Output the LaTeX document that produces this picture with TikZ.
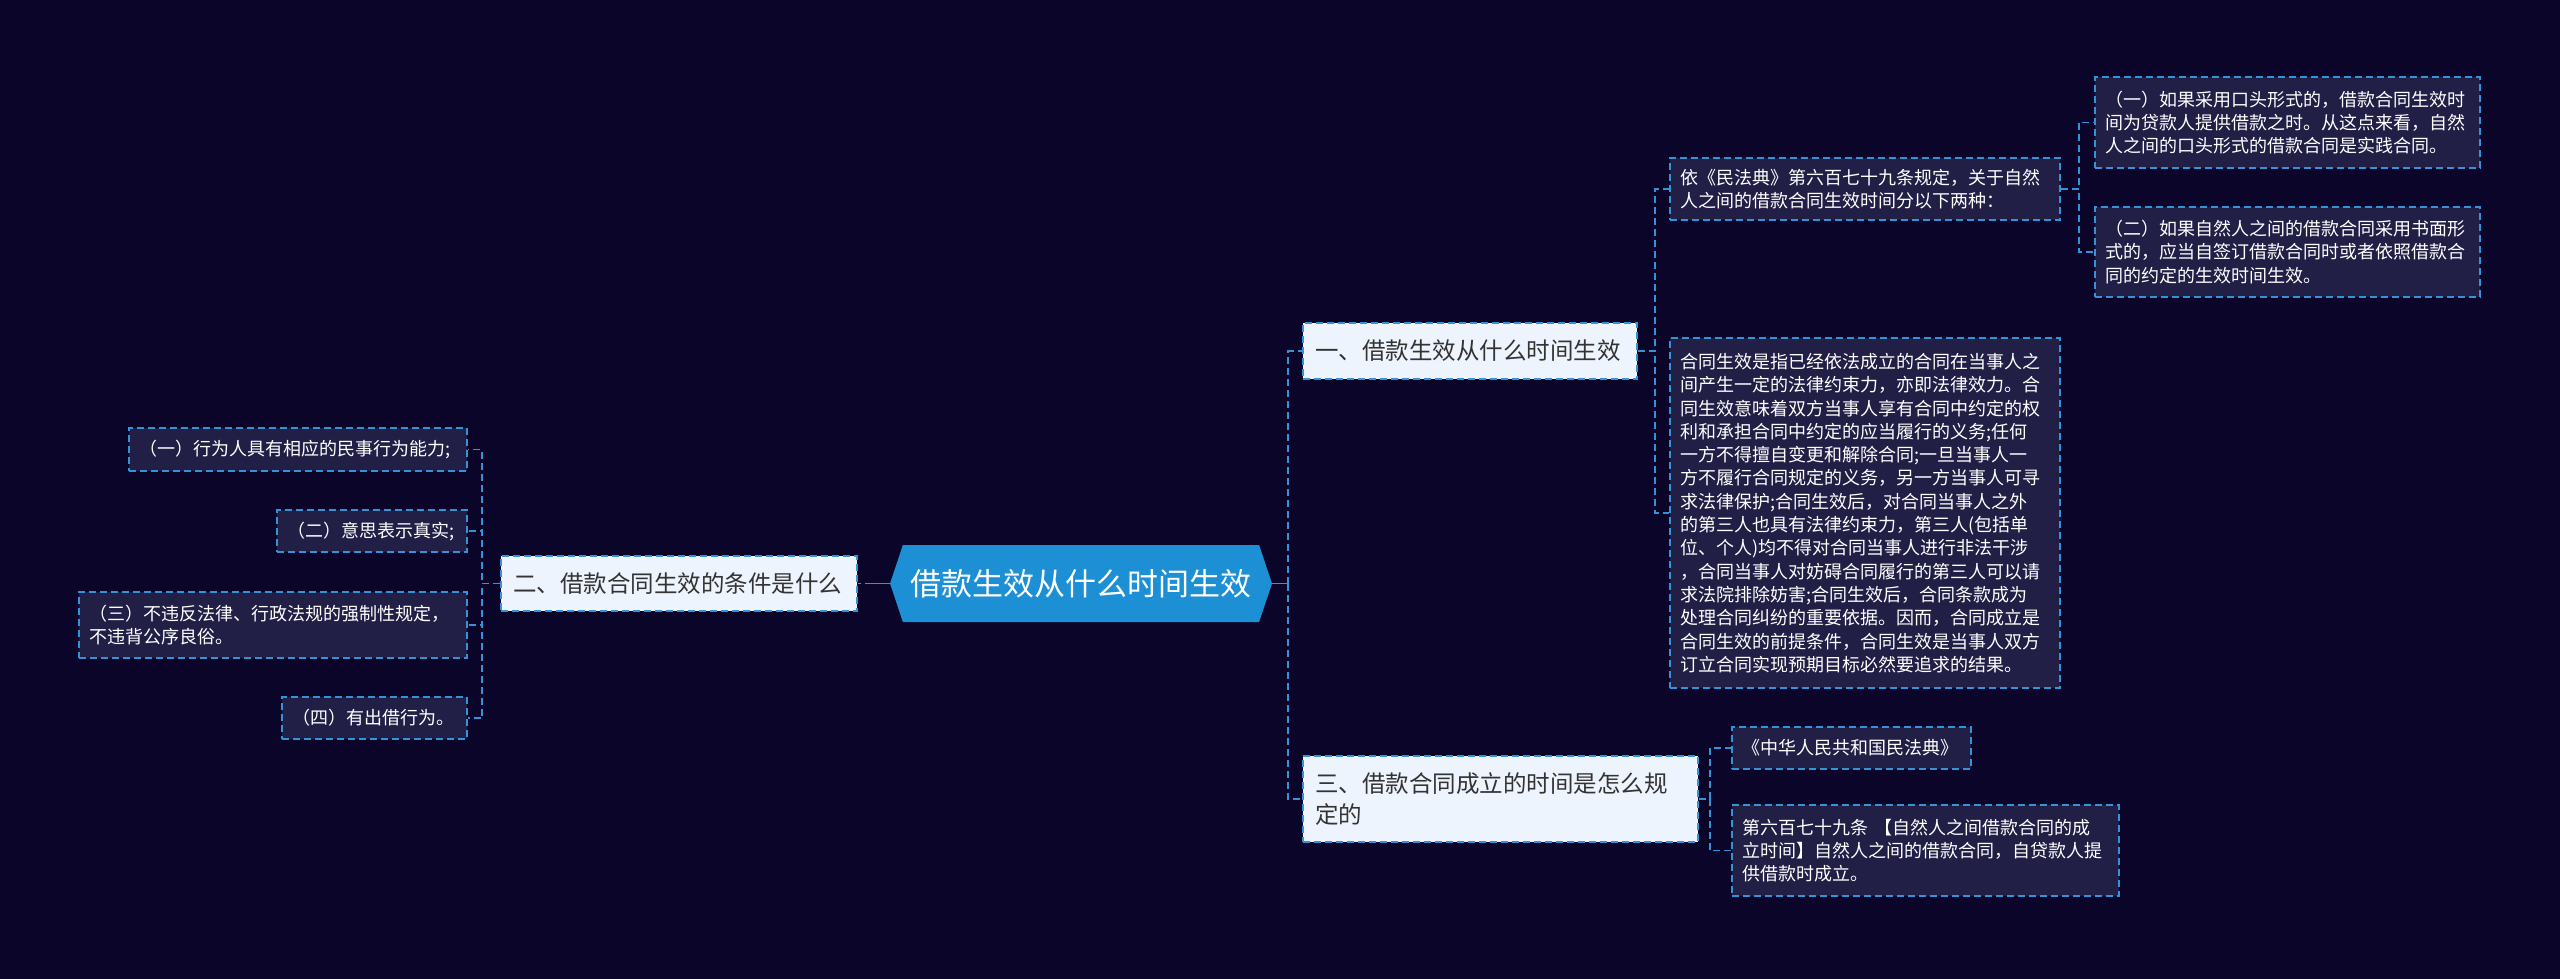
\documentclass[tikz,border=0pt]{standalone}
\usepackage{fontspec}
\newfontfamily\cjk{Noto Sans CJK SC}
\usetikzlibrary{shapes.symbols}
\definecolor{bgnavy}{HTML}{0A0529}
\definecolor{leafbg}{HTML}{221F47}
\definecolor{linkblue}{HTML}{3393D6}
\definecolor{rootblue}{HTML}{1D8FD5}
\definecolor{topicbg}{HTML}{EEF4FD}
\definecolor{topictext}{HTML}{333333}

\begin{document}
\begin{tikzpicture}[x=1pt,y=-1pt,
  link/.style={draw=linkblue,line width=1.6pt,dash pattern=on 7pt off 4pt},
  rootlink/.style={draw=linkblue,line width=1.6pt},
  rootbox/.style={signal,signal to=east and west,signal pointer angle=143,
    fill=rootblue,text=white,inner sep=0pt,font=\fontsize{31pt}{36pt}\selectfont\cjk},
  topic/.style={link,fill=topicbg,text=topictext,align=left,inner xsep=12pt,inner ysep=0pt,
    font=\fontsize{23.5pt}{31pt}\selectfont\cjk},
  leaf/.style={link,fill=leafbg,text=white,align=left,inner xsep=10pt,inner ysep=0pt,
    font=\fontsize{18pt}{23.3pt}\selectfont\cjk}]
  \useasboundingbox (0,0) rectangle (2560,978);
  \fill[bgnavy] (-4,-4) rectangle (2564,982);

  % centre topic
  \node[rootbox,minimum width=382pt,minimum height=77pt] (root) at (1081,583.5) {借款生效从什么时间生效};

  % main branches
  \node[topic,text width=310pt,minimum height=56pt] (b1) at (1470,351) {一、借款生效从什么时间生效};
  \node[topic,text width=332pt,minimum height=55pt] (b2) at (679,583.5) {二、借款合同生效的条件是什么};
  \node[topic,text width=371pt,minimum height=86pt] (b3) at (1500.5,799) {三、借款合同成立的时间是怎么规\\定的};

  % leaves of branch one
  \node[leaf,text width=370pt,minimum height=62pt] (c11) at (1865,189)
    {依《民法典》第六百七十九条规定，关于自然\\人之间的借款合同生效时间分以下两种：};
  \node[leaf,text width=370pt,minimum height=350pt] (c12) at (1865,513)
    {合同生效是指已经依法成立的合同在当事人之\\间产生一定的法律约束力，亦即法律效力。合\\同生效意味着双方当事人享有合同中约定的权\\利和承担合同中约定的应当履行的义务;任何\\一方不得擅自变更和解除合同;一旦当事人一\\方不履行合同规定的义务，另一方当事人可寻\\求法律保护;合同生效后，对合同当事人之外\\的第三人也具有法律约束力，第三人(包括单\\位、个人)均不得对合同当事人进行非法干涉\\，合同当事人对妨碍合同履行的第三人可以请\\求法院排除妨害;合同生效后，合同条款成为\\处理合同纠纷的重要依据。因而，合同成立是\\合同生效的前提条件，合同生效是当事人双方\\订立合同实现预期目标必然要追求的结果。};
  \node[leaf,text width=365pt,minimum height=91pt] (d1) at (2287.5,122.5)
    {（一）如果采用口头形式的，借款合同生效时\\间为贷款人提供借款之时。从这点来看，自然\\人之间的口头形式的借款合同是实践合同。};
  \node[leaf,text width=365pt,minimum height=90pt] (d2) at (2287.5,252)
    {（二）如果自然人之间的借款合同采用书面形\\式的，应当自签订借款合同时或者依照借款合\\同的约定的生效时间生效。};

  % leaves of branch two
  \node[leaf,text width=318pt,minimum height=43pt] (c21) at (298,449.5) {（一）行为人具有相应的民事行为能力;};
  \node[leaf,text width=170pt,minimum height=42pt] (c22) at (372,531) {（二）意思表示真实;};
  \node[leaf,text width=368pt,minimum height=66pt] (c23) at (273,625)
    {（三）不违反法律、行政法规的强制性规定，\\不违背公序良俗。};
  \node[leaf,text width=165pt,minimum height=42pt] (c24) at (374.5,718) {（四）有出借行为。};

  % leaves of branch three
  \node[leaf,text width=219pt,minimum height=42pt] (c31) at (1851.5,748) {《中华人民共和国民法典》};
  \node[leaf,text width=367pt,minimum height=91pt] (c32) at (1925.5,850.5)
    {第六百七十九条 【自然人之间借款合同的成\\立时间】自然人之间的借款合同，自贷款人提\\供借款时成立。};

  % connectors
  \draw[rootlink] (root.east) -- ++(16,0) coordinate (rj);
  \draw[link] (rj) |- (b1.west);
  \draw[link] (rj) |- (b3.west);
  \draw[rootlink] (root.west) -- ++(-18,0) coordinate (lj);
  \draw[link] (lj) -- (b2.east);
  \foreach \c in {c11,c12} \draw[link] (b1.east) -- ++(17,0) |- (\c.west);
  \foreach \c in {d1,d2} \draw[link] (c11.east) -- ++(18,0) |- (\c.west);
  \foreach \c in {c21,c22,c23,c24} \draw[link] (b2.west) -- ++(-18,0) |- (\c.east);
  \foreach \c in {c31,c32} \draw[link] (b3.east) -- ++(11,0) |- (\c.west);
\end{tikzpicture}
\end{document}
